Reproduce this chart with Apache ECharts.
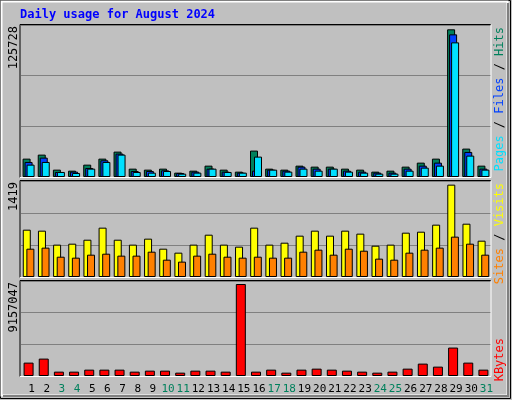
<!DOCTYPE html>
<html>
<head>
<meta charset="utf-8">
<script src="https://cdn.jsdelivr.net/npm/echarts@6/dist/echarts.min.js"></script>
<style>
  html, body { margin: 0; padding: 0; background: #fff; }
  #chart { width: 512px; height: 400px; }
</style>
</head>
<body>
<div id="chart"></div>
<script>
var days = [];
for (var d = 1; d <= 31; d++) days.push(String(d));
var weekend = ['3', '4', '10', '11', '17', '18', '24', '25', '31'];

var hits = [15640, 19060, 6260, 5400, 10520, 15640, 21610, 7110, 6260, 7110, 3700, 5400, 9670, 6260, 4550, 22470, 7110, 6260, 9670, 8820, 8820, 7110, 6260, 4550, 5400, 8820, 12230, 15640, 125728, 24170, 9670];
var files = [12800, 16500, 4270, 4550, 7680, 14220, 19910, 5120, 5120, 5690, 3410, 4550, 7110, 4550, 3700, 5400, 6260, 5400, 8820, 7110, 7110, 5400, 4550, 3700, 3700, 7110, 9670, 12230, 121440, 21330, 7110];
var pages = [10520, 12800, 4270, 3410, 7110, 12800, 19060, 4270, 3700, 5120, 2840, 3700, 7110, 4270, 3700, 17350, 6260, 4550, 7110, 5400, 7110, 4550, 3700, 2840, 2840, 5400, 7960, 9670, 114610, 18200, 6260];
var visits = [727, 712, 497, 512, 573, 758, 573, 497, 589, 435, 374, 497, 650, 497, 466, 758, 497, 527, 635, 712, 635, 712, 666, 481, 497, 681, 696, 804, 1419, 819, 558];
var sites = [435, 451, 312, 297, 343, 358, 328, 328, 389, 266, 236, 328, 358, 312, 297, 312, 297, 297, 389, 420, 343, 435, 404, 282, 266, 374, 420, 451, 620, 512, 343];
var kbytes = [1331900, 1731500, 432900, 432900, 632700, 632700, 632700, 432900, 532800, 532800, 333000, 532800, 532800, 432900, 9157047, 432900, 632700, 333000, 632700, 732600, 632700, 532800, 432900, 333000, 432900, 732600, 1232000, 932300, 2830300, 1331900, 632700];

var font = 'DejaVu Sans Mono';
var grids = [
  { left: 21, width: 470, top: 25, height: 152 },
  { left: 21, width: 470, top: 181, height: 96 },
  { left: 21, width: 470, top: 281, height: 95 }
];
var yMax = [129400, 1475, 9457000];

function xAxis(i, show) {
  return {
    type: 'category', gridIndex: i, data: days,
    axisLine: { show: false }, axisTick: { show: false },
    axisLabel: {
      show: show, interval: 0, margin: 8, fontFamily: font, fontSize: 11,
      padding: [0, 0, 0, 6],
      color: function (v) { return weekend.indexOf(v) >= 0 ? '#00805c' : '#000'; }
    }
  };
}
function yAxis(i) {
  return {
    type: 'value', gridIndex: i, min: 0, max: yMax[i], interval: yMax[i] / 3,
    axisLabel: { show: false }, axisLine: { show: false }, axisTick: { show: false },
    splitLine: { lineStyle: { color: '#808080', width: 1 } }
  };
}
function bar(name, data, i, color, w, gap) {
  return {
    name: name, type: 'bar', xAxisIndex: i, yAxisIndex: i, data: data,
    barWidth: w, barGap: gap, animation: false,
    itemStyle: { color: color, borderColor: '#000', borderWidth: 1 }
  };
}
function frame(y, h) {
  return [
    { type: 'line', shape: { x1: 20, y1: y, x2: 491, y2: y }, style: { stroke: '#000' }, z: 10 },
    { type: 'line', shape: { x1: 20, y1: y, x2: 20, y2: y + h }, style: { stroke: '#000' }, z: 10 },
    { type: 'line', shape: { x1: 491, y1: y, x2: 491, y2: y + h }, style: { stroke: '#fff' }, z: 10 },
    { type: 'line', shape: { x1: 20, y1: y + h, x2: 491, y2: y + h }, style: { stroke: '#fff' }, z: 10 }
  ];
}
function vtext(x, y, rich, text) {
  return {
    type: 'text', x: x, y: y, rotation: Math.PI / 2, z: 11,
    style: { text: text, rich: rich, align: 'right', verticalAlign: 'middle', font: '12px ' + font, fill: '#000' }
  };
}

var chart = echarts.init(document.getElementById('chart'));
chart.setOption({
  backgroundColor: '#c0c0c0',
  animation: false,
  grid: grids,
  xAxis: [xAxis(0, false), xAxis(1, false), xAxis(2, true)],
  yAxis: [yAxis(0), yAxis(1), yAxis(2)],
  series: [
    bar('Hits', hits, 0, '#00805c', 8, '-75%'),
    bar('Files', files, 0, '#0040ff', 8, '-75%'),
    bar('Pages', pages, 0, '#00e0ff', 8, '-75%'),
    bar('Visits', visits, 1, '#ffff00', 8, '-55%'),
    bar('Sites', sites, 1, '#ff8000', 8, '-55%'),
    bar('KBytes', kbytes, 2, '#ff0000', 10, '0%')
  ],
  graphic: [
    { type: 'rect', shape: { x: 0.5, y: 0.5, width: 510, height: 398 }, style: { fill: 'none', stroke: '#000', lineWidth: 1 }, z: 0 },
    { type: 'rect', shape: { x: 1.5, y: 1.5, width: 506, height: 394 }, style: { fill: 'none', stroke: '#fff', lineWidth: 2 }, z: 0 },
    { type: 'line', shape: { x1: 3, y1: 396, x2: 509, y2: 396 }, style: { stroke: '#808080', lineWidth: 2 }, z: 0 },
    { type: 'line', shape: { x1: 508, y1: 3, x2: 508, y2: 396 }, style: { stroke: '#808080', lineWidth: 2 }, z: 0 },
    { type: 'text', x: 20, y: 15, z: 11, style: { text: 'Daily usage for August 2024', font: 'bold 12px ' + font, fill: '#0000ff', verticalAlign: 'middle' } }
  ].concat(frame(24.5, 153), frame(180.5, 97), frame(280.5, 96), [
    vtext(14, 26, {}, '125728'),
    vtext(14, 182, {}, '1419'),
    vtext(14, 282, {}, '9157047'),
    vtext(500, 27, { p: { fill: '#00e0ff' }, f: { fill: '#0040ff' }, h: { fill: '#00805c' } }, '{p|Pages} / {f|Files} / {h|Hits}'),
    vtext(500, 183, { s: { fill: '#ff8000' }, v: { fill: '#ffff00' } }, '{s|Sites} / {v|Visits}'),
    vtext(500, 338, { k: { fill: '#ff0000' } }, '{k|KBytes}')
  ])
});
</script>
</body>
</html>
